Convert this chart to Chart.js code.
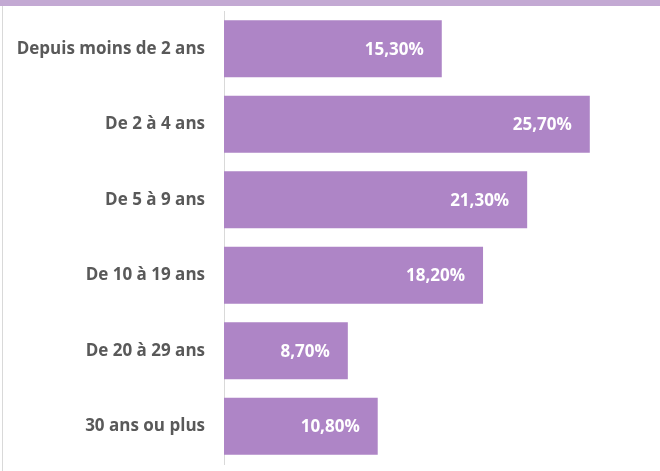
<!DOCTYPE html>
<html>
<head>
<meta charset="utf-8">
<script src="https://cdn.jsdelivr.net/npm/chart.js@4"></script>
<style>
  body{margin:0;background:#fff;}
  #wrap{position:relative;width:660px;height:471px;overflow:hidden;}
  #strip{position:absolute;left:0;top:0;width:660px;height:6px;background:#c3a9d3;}
  #edge{position:absolute;left:2px;top:6px;width:1px;height:465px;background:#d9d9d9;}
  canvas{position:absolute;left:0;top:0;}
</style>
</head>
<body>
<div id="wrap">
  <div id="strip"></div>
  <div id="edge"></div>
  <canvas id="chart" width="660" height="471"></canvas>
</div>
<script>
// durée d'occupation
let categories=['Depuis moins de 2 ans','De 2 à 4 ans','De 5 à 9 ans','De 10 à 19 ans','De 20 à 29 ans','30 ans ou plus'];
let values=[15.3,25.7,21.3,18.2,8.7,10.8];
let labels=['15,30%','25,70%','21,30%','18,20%','8,70%','10,80%'];

// draws the value labels inside the bar ends
const barLabels={
  id:'barLabels',
  afterDatasetsDraw(chart){
    const ctx=chart.ctx;
    const meta=chart.getDatasetMeta(0);
    ctx.save();
    ctx.font='bold 17px "Open Sans"';
    ctx.fillStyle='#ffffff';
    ctx.textAlign='right';
    ctx.textBaseline='middle';
    meta.data.forEach(function(bar,i){
      ctx.fillText(labels[i],bar.x-18,bar.y+1);
    });
    ctx.restore();
  }
};

new Chart(document.getElementById('chart'),{
  type:'bar',
  data:{
    labels:categories,
    datasets:[{
      data:values,
      backgroundColor:'#ae85c6',
      borderWidth:0,
      barPercentage:0.755,
      categoryPercentage:1
    }]
  },
  options:{
    indexAxis:'y',
    responsive:false,
    animation:false,
    layout:{padding:{top:11,bottom:7,right:9,left:0}},
    plugins:{legend:{display:false},tooltip:{enabled:false}},
    scales:{
      x:{display:false,min:0,max:30},
      y:{
        afterFit:function(s){s.width=224;s.paddingTop=0;s.paddingBottom=0;},
        grid:{display:false,drawTicks:false},
        border:{display:true,color:'#d9d9d9',width:1},
        ticks:{
          padding:19,
          color:'#595959',
          font:{family:'"Open Sans"',size:17,weight:'bold'}
        }
      }
    }
  },
  plugins:[barLabels]
});
</script>
</body>
</html>
